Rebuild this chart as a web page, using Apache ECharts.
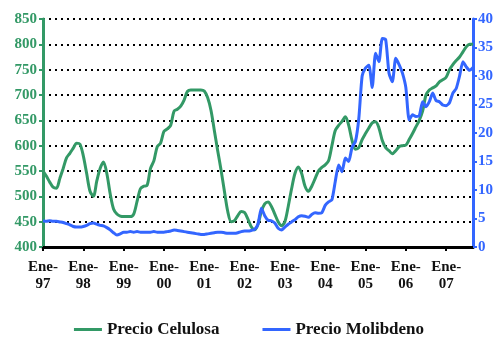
<!DOCTYPE html>
<html>
<head>
<meta charset="utf-8">
<script src="https://cdn.jsdelivr.net/npm/echarts@6/dist/echarts.min.js"></script>
<style>
  html, body { margin: 0; padding: 0; background: #fff; }
  #chart { width: 498px; height: 338px; }
</style>
</head>
<body>
<div id="chart"></div>
<script>
// Monthly series, January 1997 to September 2007
const monthNames = ['Ene','Feb','Mar','Abr','May','Jun','Jul','Ago','Sep','Oct','Nov','Dic'];
const firstYear = 1997;
const monthCount = 129;

// Pulp price (left axis)
const precioCelulosa = [
  550, 540, 528, 518, 516, 535, 555, 576, 585, 595, 605, 603,
  580, 545, 510, 500, 530, 555, 568, 545, 505, 475, 465, 461,
  460, 460, 460, 465, 490, 515, 520, 522, 555, 570, 598, 605,
  628, 633, 640, 668, 672, 678, 690, 707, 710, 710, 710, 710,
  708, 695, 670, 630, 590, 552, 510, 470, 450, 452, 462, 470,
  468, 455, 440, 434, 445, 470, 485, 489, 480, 465, 450, 442,
  450, 480, 515, 545, 558, 545, 520, 510, 520, 535, 550, 557,
  562, 570, 600, 630, 640, 648, 657, 640, 610, 593, 596, 612,
  624, 635, 645, 647, 635, 610, 596, 590, 584, 590, 598, 600,
  601, 612, 624, 637, 650, 668, 700, 710, 714, 718, 726, 730,
  735, 750, 760, 768, 775, 785, 795, 800, 800
];

// Molybdenum price (right axis)
const precioMolibdeno = [
  4.6, 4.5, 4.6, 4.5, 4.5, 4.4, 4.3, 4.1, 3.9, 3.6, 3.5, 3.5,
  3.6, 3.8, 4.1, 4.2, 4.0, 3.8, 3.7, 3.4, 3.0, 2.5, 2.1, 2.3,
  2.6, 2.6, 2.7, 2.6, 2.7, 2.6, 2.6, 2.6, 2.6, 2.7, 2.6, 2.6,
  2.6, 2.7, 2.8, 3.0, 2.9, 2.8, 2.7, 2.6, 2.5, 2.4, 2.3, 2.2,
  2.2, 2.3, 2.4, 2.5, 2.6, 2.6, 2.5, 2.4, 2.4, 2.4, 2.5, 2.7,
  2.8, 2.8, 2.9, 3.1, 4.0, 6.8, 5.5, 4.7, 4.6, 4.2, 3.3, 3.0,
  3.5, 4.0, 4.4, 4.8, 5.3, 5.5, 5.4, 5.2, 5.7, 6.0, 5.9, 6.0,
  7.3, 7.9, 8.3, 11.5, 14.4, 13.2, 15.6, 15.0, 17.5, 18.5, 22.5, 30.0,
  31.4, 31.9, 28.0, 34.0, 32.5, 36.6, 36.4, 30.5, 29.0, 33.1, 32.0, 30.5,
  28.0, 22.3, 23.2, 22.9, 23.0, 25.5, 24.6, 25.5, 27.0, 25.7, 25.5, 24.9,
  24.8, 25.3, 27.0, 27.8, 30.0, 32.5, 31.6, 31.0, 31.5
];

// Category labels such as "Ene-97"
const meses = [];
for (let i = 0; i < monthCount; i++) {
  const y = (firstYear + Math.floor(i / 12)) % 100;
  meses.push(monthNames[i % 12] + '-' + String(y).padStart(2, '0'));
}

const green = '#339966';
const blue = '#3366ff';
const serif = '"Liberation Serif", "DejaVu Serif", serif';
const isJanuary = (idx) => idx % 12 === 0;

const chart = echarts.init(document.getElementById('chart'), null, { renderer: 'canvas' });

chart.setOption({
  animation: false,
  backgroundColor: '#ffffff',
  grid: { left: 43, right: 25, top: 19, bottom: 91, outerBoundsMode: 'none' },
  legend: {
    top: 321,
    left: 'center',
    padding: 0,
    itemWidth: 28,
    itemHeight: 3,
    itemGap: 43,
    icon: 'rect',
    textStyle: { fontFamily: serif, fontWeight: 'bold', fontSize: 17, color: '#111' },
    data: ['Precio Celulosa', 'Precio Molibdeno']
  },
  xAxis: {
    type: 'category',
    data: meses,
    boundaryGap: false,
    axisLine: { lineStyle: { color: '#000', width: 3 } },
    axisTick: { interval: isJanuary, length: 4, lineStyle: { color: '#000', width: 2 } },
    axisLabel: {
      interval: isJanuary,
      margin: 12,
      lineHeight: 17,
      fontFamily: serif,
      fontWeight: 'bold',
      fontSize: 15,
      color: '#111',
      formatter: (v) => v.replace('-', '-\n')
    },
    splitLine: { show: false }
  },
  yAxis: [
    {
      type: 'value',
      min: 400,
      max: 850,
      interval: 50,
      position: 'left',
      axisLine: { show: true, lineStyle: { color: green, width: 3 } },
      axisTick: { show: true, length: 4, lineStyle: { color: green, width: 2 } },
      axisLabel: { margin: 6, fontFamily: serif, fontWeight: 'bold', fontSize: 15, color: green },
      splitLine: { show: true, lineStyle: { color: '#000', width: 2, type: [2, 4] } }
    },
    {
      type: 'value',
      min: 0,
      max: 40,
      interval: 5,
      position: 'right',
      axisLine: { show: true, lineStyle: { color: blue, width: 3 } },
      axisTick: { show: true, length: 4, lineStyle: { color: blue, width: 2 } },
      axisLabel: { margin: 5, fontFamily: serif, fontWeight: 'bold', fontSize: 15, color: blue },
      splitLine: { show: false }
    }
  ],
  series: [
    {
      name: 'Precio Celulosa',
      type: 'line',
      yAxisIndex: 0,
      data: precioCelulosa,
      showSymbol: false,
      smooth: 0.3,
      color: green,
      lineStyle: { color: green, width: 3 }
    },
    {
      name: 'Precio Molibdeno',
      type: 'line',
      yAxisIndex: 1,
      data: precioMolibdeno,
      showSymbol: false,
      smooth: 0.2,
      color: blue,
      lineStyle: { color: blue, width: 3 }
    }
  ]
});
</script>
</body>
</html>
